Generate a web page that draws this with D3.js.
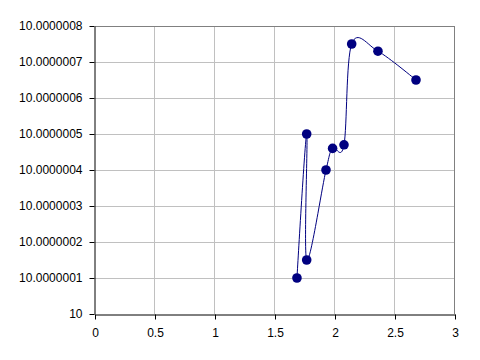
<!DOCTYPE html>
<html>
<head>
<meta charset="utf-8">
<script src="https://cdn.jsdelivr.net/npm/d3@7"></script>
<style>
  body { margin: 0; background: #fff; }
  svg { display: block; font-family: "Liberation Sans", Arial, sans-serif; }
</style>
</head>
<body>
<svg id="chart" width="480" height="360"></svg>
<script>
// values, in drawing order
var xs = [1.683, 1.764, 1.764, 1.925, 1.98, 2.075, 2.139, 2.358, 2.675]
var ys = [10.0000001, 10.0000005, 10.00000015, 10.0000004, 10.00000046, 10.00000047, 10.00000075, 10.00000073, 10.00000065]

var xTicks = [0, 0.5, 1, 1.5, 2, 2.5, 3]
var yTicks = [10, 10.0000001, 10.0000002, 10.0000003, 10.0000004, 10.0000005, 10.0000006, 10.0000007, 10.0000008]
var yLabels = ["10", "10.0000001", "10.0000002", "10.0000003", "10.0000004", "10.0000005", "10.0000006", "10.0000007", "10.0000008"]

var svg = d3.select("#chart")
// plot box (window.top is reserved, so use other names)
var pLeft = 95, pRight = 455, pTop = 26, pBottom = 314

var x = d3.scaleLinear().domain([0, 3]).range([pLeft, pRight])
var y = d3.scaleLinear().domain([10, 10.0000008]).range([pBottom, pTop])

// grid
svg.append("g").selectAll("line").data(xTicks.slice(1))
    .join("line")
    .attr("x1", d => Math.round(x(d)) - 0.5).attr("x2", d => Math.round(x(d)) - 0.5)
    .attr("y1", pTop).attr("y2", pBottom)
    .style("stroke", "#c0c0c0")
svg.append("g").selectAll("line").data(yTicks.slice(1))
    .join("line")
    .attr("x1", pLeft).attr("x2", pRight)
    .attr("y1", d => Math.round(y(d)) + 0.5).attr("y2", d => Math.round(y(d)) + 0.5)
    .style("stroke", "#c0c0c0")

// frame on top / right
svg.append("line").attr("x1", pLeft).attr("x2", pRight).attr("y1", pTop + 0.5).attr("y2", pTop + 0.5).style("stroke", "#808080")
svg.append("line").attr("x1", pRight - 0.5).attr("x2", pRight - 0.5).attr("y1", pTop).attr("y2", pBottom).style("stroke", "#808080")

// axes
var xAxis = d3.axisBottom(x).tickValues(xTicks).tickSize(5).tickSizeOuter(0).tickFormat(d3.format("~g"))
var yAxis = d3.axisLeft(y).tickValues(yTicks).tickSize(5).tickSizeOuter(0).tickFormat((d, i) => yLabels[i])

var gx = svg.append("g").attr("transform", "translate(0," + (pBottom + 0.5) + ")").call(xAxis)
var gy = svg.append("g").attr("transform", "translate(" + (pLeft - 0.5) + ",0)").call(yAxis)

gx.selectAll("text").attr("dy", null).attr("y", 22).style("font-size", "12px").style("fill", "#000")
gy.selectAll("text").attr("x", -12).style("font-size", "12px").style("fill", "#000")
svg.selectAll(".domain, .tick line").style("stroke", "#000")

// smoothed series line
var line = d3.line()
    .x((d, i) => x(xs[i]))
    .y((d, i) => y(ys[i]))
    .curve(d3.curveCardinal.tension(0))

svg.append("path")
    .datum(xs)
    .attr("d", line)
    .style("fill", "none")
    .style("stroke", "#000080")
    .style("stroke-width", 1)

svg.append("g").selectAll("circle").data(xs)
    .join("circle")
    .attr("cx", (d, i) => x(xs[i]))
    .attr("cy", (d, i) => y(ys[i]))
    .attr("r", 4.8)
    .style("fill", "#000080")
</script>
</body>
</html>
